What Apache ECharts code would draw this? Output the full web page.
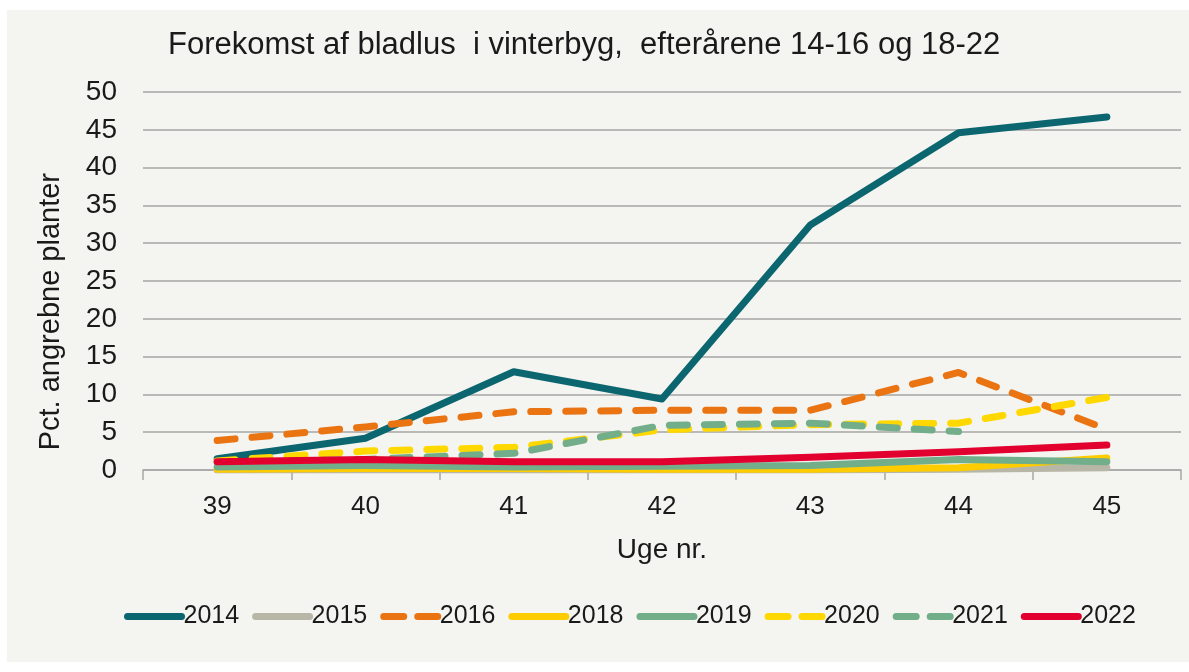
<!DOCTYPE html>
<html>
<head>
<meta charset="utf-8">
<script src="https://cdn.jsdelivr.net/npm/echarts@6/dist/echarts.min.js"></script>
<style>
html,body{margin:0;padding:0;background:#ffffff;}
#panel{position:absolute;left:7px;top:10px;width:1182px;height:652px;background:#f4f4f0;}
#chart{position:absolute;left:0;top:0;width:1189px;height:672px;}
</style>
</head>
<body>
<div id="panel"></div>
<div id="chart"></div>
<script>
const weeks = ['39','40','41','42','43','44','45'];
const s2014 = [1.5, 4.2, 13.0, 9.4, 32.4, 44.6, 46.7];
const s2015 = [0.0, 0.0, 0.0, 0.0, 0.0, 0.1, 0.3];
const s2016 = [3.9, 5.7, 7.7, 7.9, 7.9, 12.9, 5.4];
const s2018 = [0.1, 0.2, 0.2, 0.1, 0.1, 0.3, 1.6];
const s2019 = [0.4, 0.6, 0.4, 0.5, 0.6, 1.4, 1.1];
const s2020 = [1.2, 2.5, 3.0, 5.3, 6.0, 6.2, 9.6];
const s2021 = [1.0, 1.4, 2.2, 5.9, 6.2, 5.1, null];
const s2022 = [1.1, 1.4, 1.1, 1.1, 1.7, 2.4, 3.3];
const yTicks = ['0','5','10','15','20','25','30','35','40','45','50'];
const yAxisName = 'Pct. angrebne planter';
const xAxisName = 'Uge nr.';
const titleText = 'Forekomst af bladlus  i vinterbyg,  efterårene 14-16 og 18-22';
const seriesNames = ['2014','2015','2016','2018','2019','2020','2021','2022'];
const dashedNames = ['2016','2020','2021'];

const FONT = '"Liberation Sans", Arial, sans-serif';
const TXT = '#1a1a1a';
const DASH = [18, 17];

function mk(name, data, color, dashed) {
  return {
    name: name, type: 'line', data: data, showSymbol: false, symbol: 'none',
    connectNulls: false,
    lineStyle: {color: color, width: 7, type: dashed ? DASH : 'solid', cap: 'round', join: 'round'},
    itemStyle: {color: color},
    emphasis: {disabled: true}
  };
}

const chart = echarts.init(document.getElementById('chart'), null, {renderer: 'canvas'});
chart.setOption({
  backgroundColor: 'transparent',
  animation: false,
  textStyle: {fontFamily: FONT},
  title: {
    text: titleText,
    left: 163, top: 25,
    textStyle: {fontFamily: FONT, fontSize: 31, fontWeight: 'normal', color: TXT}
  },
  graphic: [{
    type: 'text', left: 36, top: 173, rotation: Math.PI / 2, silent: true,
    style: {text: yAxisName, fontFamily: FONT, fontSize: 29, fill: TXT}
  }],
  grid: {left: 143, right: 8, top: 92, bottom: 202, containLabel: false},
  legend: {
    top: 599, left: 119,
    itemWidth: 54, itemHeight: 14, itemGap: 13,
    itemStyle: {opacity: 0},
    lineStyle: {width: 7, cap: 'round'},
    textStyle: {fontFamily: FONT, fontSize: 25, color: TXT, padding: [0,0,0,-3]},
    data: seriesNames.map(function (n) {
      return dashedNames.indexOf(n) >= 0 ? {name: n, lineStyle: {type: [20, 14], width: 7, cap: 'round'}} : {name: n};
    })
  },
  xAxis: {
    type: 'category', data: weeks, boundaryGap: true,
    name: xAxisName, nameLocation: 'middle', nameGap: 66,
    nameTextStyle: {fontFamily: FONT, fontSize: 28, color: TXT},
    axisLine: {show: true, lineStyle: {color: '#a6a6a6', width: 1.5}},
    axisTick: {show: true, length: 10, alignWithLabel: false, lineStyle: {color: '#a6a6a6', width: 1.5}},
    axisLabel: {fontFamily: FONT, fontSize: 26, color: TXT, margin: 24},
    splitLine: {show: false}
  },
  yAxis: {
    type: 'value', min: 0, max: 50, interval: 5,
    axisLine: {show: false}, axisTick: {show: false},
    axisLabel: {fontFamily: FONT, fontSize: 28, color: TXT, margin: 26,
      formatter: function (v) { return yTicks[Math.round(v / 5)]; }},
    splitLine: {show: true, lineStyle: {color: '#a6a6a6', width: 1.5}}
  },
  series: [
    mk('2014', s2014, '#0b6670', false),
    mk('2015', s2015, '#b8b6a6', false),
    mk('2016', s2016, '#ea7412', true),
    mk('2018', s2018, '#ffcc00', false),
    mk('2019', s2019, '#72ae8a', false),
    mk('2020', s2020, '#ffd800', true),
    mk('2021', s2021, '#72ae8a', true),
    mk('2022', s2022, '#e2002f', false)
  ]
});
</script>
</body>
</html>
